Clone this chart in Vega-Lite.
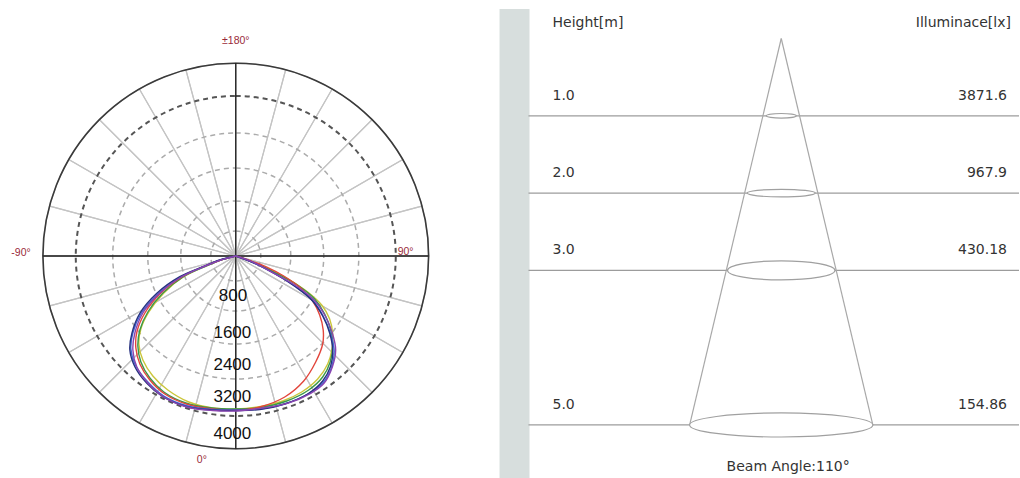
{
 "$schema": "https://vega.github.io/schema/vega-lite/v6.json",
 "width": 1020, "height": 478, "padding": 0,
 "autosize": {"type": "fit", "contains": "padding"},
 "background": "white",
 "config": {"view": {"stroke": null}, "axis": {"disable": true}, "legend": {"disable": true}},
 "resolve": {"scale": {"x": "independent", "y": "independent"}},
 "layer": [
  {
   "layer": [
    {
     "data": {"values": [{"w":1},{"w":1},{"w":1},{"w":1},{"w":1},{"w":1},{"w":1},{"w":1},{"w":1},{"w":1},{"w":1},{"w":1},{"w":1},{"w":1},{"w":1},{"w":1},{"w":1},{"w":1},{"w":1},{"w":1},{"w":1},{"w":1},{"w":1},{"w":1}]},
     "mark": {"type": "arc", "filled": false, "stroke": "#c4c4c4", "strokeWidth": 1.2},
     "encoding": {
      "x": {"datum": 0, "type": "quantitative", "scale": {"domain": [-5900, 19600], "nice": false, "zero": false}},
      "y": {"datum": 0, "type": "quantitative", "scale": {"domain": [-5550, 6400], "nice": false, "zero": false}},
      "theta": {"field": "w", "type": "quantitative", "stack": true},
      "radius": {"datum": 4820, "type": "quantitative", "stack": null, "scale": {"type": "linear", "domain": [0, 5000], "range": [0, 200], "zero": true}}
     }
    },
    {
     "data": {"values": [{"r":625},{"r":1375},{"r":2200},{"r":3075}]},
     "mark": {"type": "arc", "filled": false, "stroke": "#ababab", "strokeWidth": 1.5, "strokeDash": [5, 4]},
     "encoding": {
      "x": {"datum": 0, "type": "quantitative", "scale": {"domain": [-5900, 19600], "nice": false, "zero": false}},
      "y": {"datum": 0, "type": "quantitative", "scale": {"domain": [-5550, 6400], "nice": false, "zero": false}},
      "theta": {"value": 0},
      "theta2": {"value": 6.3},
      "radius": {"field": "r", "type": "quantitative", "stack": null, "scale": {"type": "linear", "domain": [0, 5000], "range": [0, 200], "zero": true}}
     }
    },
    {
     "data": {"values": [{"r":4000}]},
     "mark": {"type": "arc", "filled": false, "stroke": "#555555", "strokeWidth": 2, "strokeDash": [5, 4]},
     "encoding": {
      "x": {"datum": 0, "type": "quantitative", "scale": {"domain": [-5900, 19600], "nice": false, "zero": false}},
      "y": {"datum": 0, "type": "quantitative", "scale": {"domain": [-5550, 6400], "nice": false, "zero": false}},
      "theta": {"value": 0},
      "theta2": {"value": 6.3},
      "radius": {"field": "r", "type": "quantitative", "stack": null, "scale": {"type": "linear", "domain": [0, 5000], "range": [0, 200], "zero": true}}
     }
    },
    {
     "data": {"values": [{"r":4820}]},
     "mark": {"type": "arc", "filled": false, "stroke": "#3a3a3a", "strokeWidth": 1.6},
     "encoding": {
      "x": {"datum": 0, "type": "quantitative", "scale": {"domain": [-5900, 19600], "nice": false, "zero": false}},
      "y": {"datum": 0, "type": "quantitative", "scale": {"domain": [-5550, 6400], "nice": false, "zero": false}},
      "theta": {"value": 0},
      "theta2": {"value": 6.3},
      "radius": {"field": "r", "type": "quantitative", "stack": null, "scale": {"type": "linear", "domain": [0, 5000], "range": [0, 200], "zero": true}}
     }
    },
    {
     "data": {"values": [{"x":-4820,"x2":4820,"y":0,"y2":0},{"x":0,"x2":0,"y":-4820,"y2":4820}]},
     "mark": {"type": "rule", "color": "#1a1a1a", "strokeWidth": 1.3},
     "encoding": {
      "x": {"field": "x", "type": "quantitative", "scale": {"domain": [-5900, 19600], "nice": false, "zero": false}},
      "x2": {"field": "x2"},
      "y": {"field": "y", "type": "quantitative", "scale": {"domain": [-5550, 6400], "nice": false, "zero": false}},
      "y2": {"field": "y2"}
     }
    },
    {
     "data": {"values": [
      {"c":"yellow","i":0,"x":0,"y":0},{"c":"yellow","i":1,"x":-375,"y":-100},{"c":"yellow","i":2,"x":-775,"y":-263},{"c":"yellow","i":3,"x":-1300,"y":-513},{"c":"yellow","i":4,"x":-1800,"y":-925},{"c":"yellow","i":5,"x":-2175,"y":-1400},{"c":"yellow","i":6,"x":-2375,"y":-1825},{"c":"yellow","i":7,"x":-2425,"y":-2200},{"c":"yellow","i":8,"x":-2325,"y":-2600},{"c":"yellow","i":9,"x":-2075,"y":-3000},{"c":"yellow","i":10,"x":-1700,"y":-3350},{"c":"yellow","i":11,"x":-1175,"y":-3650},{"c":"yellow","i":12,"x":-575,"y":-3800},{"c":"yellow","i":13,"x":0,"y":-3825},{"c":"yellow","i":14,"x":625,"y":-3763},{"c":"yellow","i":15,"x":1175,"y":-3625},{"c":"yellow","i":16,"x":1650,"y":-3400},{"c":"yellow","i":17,"x":2050,"y":-3075},{"c":"yellow","i":18,"x":2300,"y":-2700},{"c":"yellow","i":19,"x":2413,"y":-2300},{"c":"yellow","i":20,"x":2425,"y":-1950},{"c":"yellow","i":21,"x":2350,"y":-1575},{"c":"yellow","i":22,"x":2150,"y":-1225},{"c":"yellow","i":23,"x":1800,"y":-900},{"c":"yellow","i":24,"x":1350,"y":-600},{"c":"yellow","i":25,"x":825,"y":-325},{"c":"yellow","i":26,"x":350,"y":-125},{"c":"yellow","i":27,"x":0,"y":0},
      {"c":"green","i":0,"x":0,"y":0},{"c":"green","i":1,"x":-375,"y":-100},{"c":"green","i":2,"x":-775,"y":-263},{"c":"green","i":3,"x":-1300,"y":-513},{"c":"green","i":4,"x":-1825,"y":-925},{"c":"green","i":5,"x":-2200,"y":-1400},{"c":"green","i":6,"x":-2400,"y":-1850},{"c":"green","i":7,"x":-2450,"y":-2250},{"c":"green","i":8,"x":-2375,"y":-2650},{"c":"green","i":9,"x":-2150,"y":-3050},{"c":"green","i":10,"x":-1800,"y":-3400},{"c":"green","i":11,"x":-1250,"y":-3675},{"c":"green","i":12,"x":-600,"y":-3800},{"c":"green","i":13,"x":0,"y":-3825},{"c":"green","i":14,"x":625,"y":-3788},{"c":"green","i":15,"x":1275,"y":-3625},{"c":"green","i":16,"x":1825,"y":-3350},{"c":"green","i":17,"x":2175,"y":-3025},{"c":"green","i":18,"x":2363,"y":-2650},{"c":"green","i":19,"x":2425,"y":-2250},{"c":"green","i":20,"x":2375,"y":-1850},{"c":"green","i":21,"x":2225,"y":-1450},{"c":"green","i":22,"x":1975,"y":-1075},{"c":"green","i":23,"x":1575,"y":-750},{"c":"green","i":24,"x":1000,"y":-425},{"c":"green","i":25,"x":425,"y":-150},{"c":"green","i":26,"x":0,"y":0},
      {"c":"red","i":0,"x":0,"y":0},{"c":"red","i":1,"x":-375,"y":-100},{"c":"red","i":2,"x":-800,"y":-263},{"c":"red","i":3,"x":-1325,"y":-513},{"c":"red","i":4,"x":-1875,"y":-925},{"c":"red","i":5,"x":-2275,"y":-1425},{"c":"red","i":6,"x":-2475,"y":-1900},{"c":"red","i":7,"x":-2500,"y":-2300},{"c":"red","i":8,"x":-2400,"y":-2700},{"c":"red","i":9,"x":-2150,"y":-3100},{"c":"red","i":10,"x":-1775,"y":-3450},{"c":"red","i":11,"x":-1200,"y":-3713},{"c":"red","i":12,"x":-575,"y":-3825},{"c":"red","i":13,"x":0,"y":-3850},{"c":"red","i":14,"x":600,"y":-3775},{"c":"red","i":15,"x":1225,"y":-3525},{"c":"red","i":16,"x":1700,"y":-3125},{"c":"red","i":17,"x":2000,"y":-2650},{"c":"red","i":18,"x":2175,"y":-2200},{"c":"red","i":19,"x":2188,"y":-1850},{"c":"red","i":20,"x":2100,"y":-1475},{"c":"red","i":21,"x":1925,"y":-1125},{"c":"red","i":22,"x":1625,"y":-800},{"c":"red","i":23,"x":1200,"y":-500},{"c":"red","i":24,"x":750,"y":-263},{"c":"red","i":25,"x":350,"y":-113},{"c":"red","i":26,"x":0,"y":0},
      {"c":"blue","i":0,"x":0,"y":0},{"c":"blue","i":1,"x":-400,"y":-105},{"c":"blue","i":2,"x":-825,"y":-275},{"c":"blue","i":3,"x":-1375,"y":-525},{"c":"blue","i":4,"x":-1950,"y":-950},{"c":"blue","i":5,"x":-2375,"y":-1450},{"c":"blue","i":6,"x":-2575,"y":-1925},{"c":"blue","i":7,"x":-2625,"y":-2325},{"c":"blue","i":8,"x":-2500,"y":-2750},{"c":"blue","i":9,"x":-2200,"y":-3150},{"c":"blue","i":10,"x":-1800,"y":-3500},{"c":"blue","i":11,"x":-1200,"y":-3750},{"c":"blue","i":12,"x":-550,"y":-3838},{"c":"blue","i":13,"x":0,"y":-3850},{"c":"blue","i":14,"x":600,"y":-3825},{"c":"blue","i":15,"x":1250,"y":-3688},{"c":"blue","i":16,"x":1825,"y":-3438},{"c":"blue","i":17,"x":2200,"y":-3150},{"c":"blue","i":18,"x":2400,"y":-2775},{"c":"blue","i":19,"x":2463,"y":-2375},{"c":"blue","i":20,"x":2375,"y":-1950},{"c":"blue","i":21,"x":2200,"y":-1525},{"c":"blue","i":22,"x":1925,"y":-1113},{"c":"blue","i":23,"x":1513,"y":-775},{"c":"blue","i":24,"x":950,"y":-430},{"c":"blue","i":25,"x":400,"y":-150},{"c":"blue","i":26,"x":0,"y":0},
      {"c":"navy","i":0,"x":0,"y":0},{"c":"navy","i":1,"x":-400,"y":-100},{"c":"navy","i":2,"x":-825,"y":-268},{"c":"navy","i":3,"x":-1400,"y":-518},{"c":"navy","i":4,"x":-1975,"y":-933},{"c":"navy","i":5,"x":-2400,"y":-1433},{"c":"navy","i":6,"x":-2600,"y":-1933},{"c":"navy","i":7,"x":-2650,"y":-2350},{"c":"navy","i":8,"x":-2525,"y":-2768},{"c":"navy","i":9,"x":-2225,"y":-3183},{"c":"navy","i":10,"x":-1825,"y":-3518},{"c":"navy","i":11,"x":-1225,"y":-3768},{"c":"navy","i":12,"x":-575,"y":-3850},{"c":"navy","i":13,"x":0,"y":-3863},{"c":"navy","i":14,"x":600,"y":-3838},{"c":"navy","i":15,"x":1225,"y":-3700},{"c":"navy","i":16,"x":1800,"y":-3450},{"c":"navy","i":17,"x":2175,"y":-3125},{"c":"navy","i":18,"x":2375,"y":-2750},{"c":"navy","i":19,"x":2425,"y":-2350},{"c":"navy","i":20,"x":2350,"y":-1925},{"c":"navy","i":21,"x":2175,"y":-1500},{"c":"navy","i":22,"x":1900,"y":-1100},{"c":"navy","i":23,"x":1500,"y":-775},{"c":"navy","i":24,"x":950,"y":-425},{"c":"navy","i":25,"x":400,"y":-150},{"c":"navy","i":26,"x":0,"y":0},
      {"c":"purple","i":0,"x":0,"y":0},{"c":"purple","i":1,"x":-375,"y":-100},{"c":"purple","i":2,"x":-800,"y":-263},{"c":"purple","i":3,"x":-1350,"y":-513},{"c":"purple","i":4,"x":-1900,"y":-925},{"c":"purple","i":5,"x":-2325,"y":-1425},{"c":"purple","i":6,"x":-2525,"y":-1925},{"c":"purple","i":7,"x":-2575,"y":-2350},{"c":"purple","i":8,"x":-2475,"y":-2775},{"c":"purple","i":9,"x":-2200,"y":-3175},{"c":"purple","i":10,"x":-1800,"y":-3525},{"c":"purple","i":11,"x":-1225,"y":-3775},{"c":"purple","i":12,"x":-575,"y":-3863},{"c":"purple","i":13,"x":0,"y":-3875},{"c":"purple","i":14,"x":625,"y":-3808},{"c":"purple","i":15,"x":1293,"y":-3683},{"c":"purple","i":16,"x":1875,"y":-3433},{"c":"purple","i":17,"x":2208,"y":-3183},{"c":"purple","i":18,"x":2418,"y":-2768},{"c":"purple","i":19,"x":2500,"y":-2350},{"c":"purple","i":20,"x":2418,"y":-1933},{"c":"purple","i":21,"x":2250,"y":-1518},{"c":"purple","i":22,"x":1958,"y":-1100},{"c":"purple","i":23,"x":1543,"y":-768},{"c":"purple","i":24,"x":958,"y":-433},{"c":"purple","i":25,"x":400,"y":-143},{"c":"purple","i":26,"x":0,"y":0}
     ]},
     "mark": {"type": "line", "strokeWidth": 1.4, "interpolate": "catmull-rom"},
     "encoding": {
      "x": {"field": "x", "type": "quantitative", "scale": {"domain": [-5900, 19600], "nice": false, "zero": false}},
      "y": {"field": "y", "type": "quantitative", "scale": {"domain": [-5550, 6400], "nice": false, "zero": false}},
      "order": {"field": "i", "type": "quantitative"},
      "color": {"field": "c", "type": "nominal", "legend": null, "sort": ["yellow","green","red","blue","navy","purple"],
       "scale": {"domain": ["yellow","green","red","blue","navy","purple"], "range": ["#cbc63a","#3a9848","#e2463c","#4169d6","#27317f","#8a45b0"]}}
     }
    },
    {
     "data": {"values": [{"t":"800","x":-70,"y":-1000},{"t":"1600","x":-85,"y":-1925},{"t":"2400","x":-85,"y":-2725},{"t":"3200","x":-85,"y":-3525},{"t":"4000","x":-85,"y":-4450}]},
     "mark": {"type": "text", "font": "Liberation Sans", "fontSize": 17, "color": "#111111", "align": "center", "baseline": "middle"},
     "encoding": {
      "x": {"field": "x", "type": "quantitative", "scale": {"domain": [-5900, 19600], "nice": false, "zero": false}},
      "y": {"field": "y", "type": "quantitative", "scale": {"domain": [-5550, 6400], "nice": false, "zero": false}},
      "text": {"field": "t"}
     }
    },
    {
     "data": {"values": [{"t":"±180°","x":0,"y":5375},{"t":"0°","x":-850,"y":-5100},{"t":"-90°","x":-5375,"y":75},{"t":"90°","x":4250,"y":100}]},
     "mark": {"type": "text", "font": "Liberation Sans", "fontSize": 10.5, "color": "#9a2a3a", "align": "center", "baseline": "middle"},
     "encoding": {
      "x": {"field": "x", "type": "quantitative", "scale": {"domain": [-5900, 19600], "nice": false, "zero": false}},
      "y": {"field": "y", "type": "quantitative", "scale": {"domain": [-5550, 6400], "nice": false, "zero": false}},
      "text": {"field": "t"}
     }
    }
   ]
  },
  {
   "layer": [
    {
     "data": {"values": [{}]},
     "mark": {"type": "rect", "color": "#d7dedd"},
     "encoding": {
      "x": {"datum": -3.648, "type": "quantitative", "scale": {"domain": [-10.117, 3.079], "nice": false, "zero": false}},
      "x2": {"datum": -3.26},
      "y": {"datum": -0.382, "type": "quantitative", "scale": {"domain": [-0.498, 5.686], "reverse": true, "nice": false, "zero": false}},
      "y2": {"datum": 5.686}
     }
    },
    {
     "data": {"values": [{"h":1},{"h":2},{"h":3},{"h":5}]},
     "mark": {"type": "rule", "color": "#9c9c9c", "strokeWidth": 1.2},
     "encoding": {
      "x": {"datum": -3.273, "type": "quantitative", "scale": {"domain": [-10.117, 3.079], "nice": false, "zero": false}},
      "x2": {"datum": 3.079},
      "y": {"field": "h", "type": "quantitative", "scale": {"domain": [-0.498, 5.686], "reverse": true, "nice": false, "zero": false}}
     }
    },
    {
     "data": {"values": [{"x":0,"y":0,"x2":-1.186,"y2":5},{"x":0,"y":0,"x2":1.186,"y2":5}]},
     "mark": {"type": "rule", "color": "#a8a8a8", "strokeWidth": 1.2},
     "encoding": {
      "x": {"field": "x", "type": "quantitative", "scale": {"domain": [-10.117, 3.079], "nice": false, "zero": false}},
      "x2": {"field": "x2"},
      "y": {"field": "y", "type": "quantitative", "scale": {"domain": [-0.498, 5.686], "reverse": true, "nice": false, "zero": false}},
      "y2": {"field": "y2"}
     }
    },
    {
     "data": {"values": [{"h":1,"hw":0.194},{"h":2,"hw":0.44},{"h":3,"hw":0.695},{"h":5,"hw":1.186}]},
     "mark": {"type": "point", "filled": true, "fill": "white", "fillOpacity": 1, "stroke": "#a0a0a0", "strokeWidth": 1.2, "opacity": 1},
     "encoding": {
      "x": {"datum": 0, "type": "quantitative", "scale": {"domain": [-10.117, 3.079], "nice": false, "zero": false}},
      "y": {"field": "h", "type": "quantitative", "scale": {"domain": [-0.498, 5.686], "reverse": true, "nice": false, "zero": false}},
      "size": {"field": "hw", "type": "quantitative", "legend": null, "scale": {"type": "pow", "exponent": 2, "domain": [0, 1.2], "range": [0, 34417]}},
      "shape": {"field": "h", "type": "nominal", "legend": null, "scale": {"domain": [1, 2, 3, 5], "range": [
       "M-1,0C-1,-0.0845,-0.552,-0.153,0,-0.153C0.552,-0.153,1,-0.0845,1,0C1,0.0845,0.552,0.153,0,0.153C-0.552,0.153,-1,0.0845,-1,0Z",
       "M-1,0C-1,-0.0618,-0.552,-0.112,0,-0.112C0.552,-0.112,1,-0.0618,1,0C1,0.0618,0.552,0.112,0,0.112C-0.552,0.112,-1,0.0618,-1,0Z",
       "M-1,0C-1,-0.0977,-0.552,-0.177,0,-0.177C0.552,-0.177,1,-0.0977,1,0C1,0.0977,0.552,0.177,0,0.177C-0.552,0.177,-1,0.0977,-1,0Z",
       "M-1,0C-1,-0.0723,-0.552,-0.131,0,-0.131C0.552,-0.131,1,-0.0723,1,0C1,0.0723,0.552,0.131,0,0.131C-0.552,0.131,-1,0.0723,-1,0Z"
      ]}}
     }
    },
    {
     "data": {"values": [{"h":1,"lbl":"1.0"},{"h":2,"lbl":"2.0"},{"h":3,"lbl":"3.0"},{"h":5,"lbl":"5.0"}]},
     "mark": {"type": "text", "font": "DejaVu Sans", "fontSize": 14, "color": "#333333", "align": "left", "baseline": "middle", "dy": -20},
     "encoding": {
      "x": {"datum": -2.962, "type": "quantitative", "scale": {"domain": [-10.117, 3.079], "nice": false, "zero": false}},
      "y": {"field": "h", "type": "quantitative", "scale": {"domain": [-0.498, 5.686], "reverse": true, "nice": false, "zero": false}},
      "text": {"field": "lbl"}
     }
    },
    {
     "data": {"values": [{"h":1,"lux":"3871.6"},{"h":2,"lux":"967.9"},{"h":3,"lux":"430.18"},{"h":5,"lux":"154.86"}]},
     "mark": {"type": "text", "font": "DejaVu Sans", "fontSize": 14, "color": "#333333", "align": "right", "baseline": "middle", "dy": -20},
     "encoding": {
      "x": {"datum": 2.924, "type": "quantitative", "scale": {"domain": [-10.117, 3.079], "nice": false, "zero": false}},
      "y": {"field": "h", "type": "quantitative", "scale": {"domain": [-0.498, 5.686], "reverse": true, "nice": false, "zero": false}},
      "text": {"field": "lux"}
     }
    },
    {
     "data": {"values": [{}]},
     "mark": {"type": "text", "font": "DejaVu Sans", "fontSize": 14, "color": "#333333", "align": "left", "baseline": "middle", "text": "Height[m]"},
     "encoding": {
      "x": {"datum": -2.962, "type": "quantitative", "scale": {"domain": [-10.117, 3.079], "nice": false, "zero": false}},
      "y": {"datum": -0.204, "type": "quantitative", "scale": {"domain": [-0.498, 5.686], "reverse": true, "nice": false, "zero": false}}
     }
    },
    {
     "data": {"values": [{}]},
     "mark": {"type": "text", "font": "DejaVu Sans", "fontSize": 14, "color": "#333333", "align": "right", "baseline": "middle", "text": "Illuminace[lx]"},
     "encoding": {
      "x": {"datum": 2.975, "type": "quantitative", "scale": {"domain": [-10.117, 3.079], "nice": false, "zero": false}},
      "y": {"datum": -0.204, "type": "quantitative", "scale": {"domain": [-0.498, 5.686], "reverse": true, "nice": false, "zero": false}}
     }
    },
    {
     "data": {"values": [{}]},
     "mark": {"type": "text", "font": "DejaVu Sans", "fontSize": 14, "color": "#333333", "align": "center", "baseline": "middle", "text": "Beam Angle:110°"},
     "encoding": {
      "x": {"datum": 0.09, "type": "quantitative", "scale": {"domain": [-10.117, 3.079], "nice": false, "zero": false}},
      "y": {"datum": 5.54, "type": "quantitative", "scale": {"domain": [-0.498, 5.686], "reverse": true, "nice": false, "zero": false}}
     }
    }
   ]
  }
 ]
}
